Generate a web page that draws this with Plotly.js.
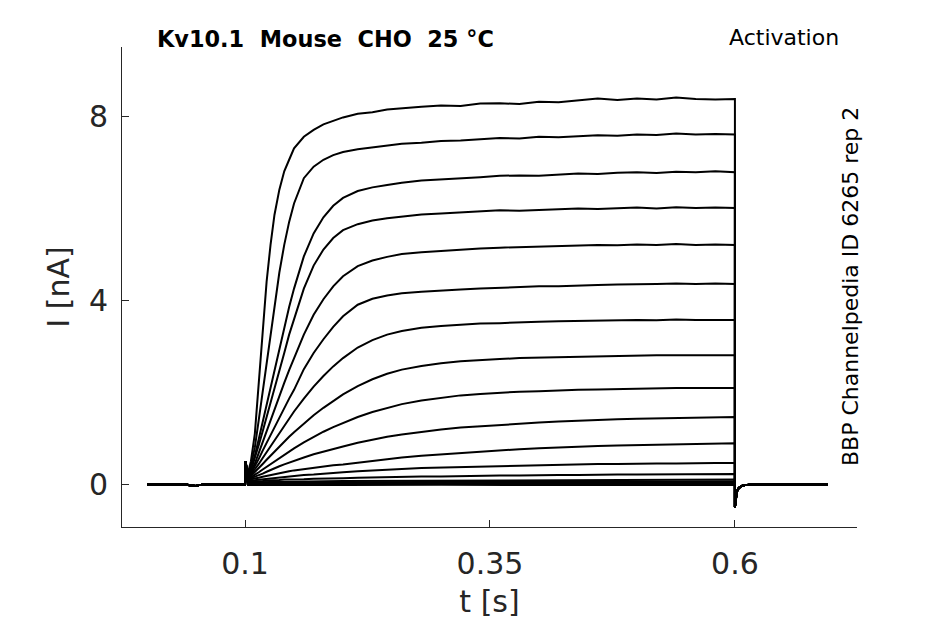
<!DOCTYPE html>
<html>
<head>
<meta charset="utf-8">
<script src="https://cdn.plot.ly/plotly-3.0.1.min.js"></script>
<style>
  body { margin: 0; background: #fff; }
  #chart { width: 945px; height: 624px; }
</style>
</head>
<body>
<div id="chart"></div>
<script>
// holding period before the step (s, nA), shared by all sweeps
const tPre = [0, 0.02, 0.04, 0.044, 0.047, 0.05, 0.053, 0.06, 0.08, 0.0999];
const iPre = [0, 0.005, 0, -0.03, -0.04, -0.04, -0.02, 0, 0.005, 0];

// step period, sample times (s)
const tStep = [0.1, 0.1004, 0.103, 0.106, 0.11, 0.114, 0.118, 0.122, 0.126, 0.13,
  0.135, 0.14, 0.145, 0.15, 0.16, 0.17, 0.18, 0.19, 0.2, 0.215,
  0.23, 0.245, 0.26, 0.28, 0.3, 0.32, 0.34, 0.36, 0.38, 0.4,
  0.42, 0.44, 0.46, 0.48, 0.5, 0.52, 0.54, 0.56, 0.58, 0.6];
// coarser times for the sweeps that barely activate
const tFlat = [0.1, 0.1004, 0.103, 0.2, 0.3, 0.4, 0.5, 0.6];

// return to holding after the step
const tPost = [0.6, 0.6005, 0.601, 0.602, 0.604, 0.607, 0.61, 0.615, 0.62, 0.63, 0.65, 0.67, 0.695];
const iPost = [-0.5, -0.4, -0.28, -0.16, -0.08, -0.04, -0.02, -0.01, 0, 0, 0, 0, 0];

// current during the step (nA), largest sweep first
const sweep01 = [0, 0.5, 0.25, 0.5, 1.1, 2.2, 3.4, 4.4, 5.2, 5.85,
  6.4, 6.8, 7.05, 7.3, 7.55, 7.7, 7.82, 7.9, 7.97, 8.05,
  8.08, 8.14, 8.17, 8.2, 8.23, 8.22, 8.27, 8.28, 8.26, 8.31,
  8.3, 8.34, 8.38, 8.35, 8.38, 8.36, 8.4, 8.37, 8.36, 8.37];
const sweep02 = [0, 0.5, 0.2, 0.4, 0.8, 1.4, 2.0, 2.6, 3.2, 3.9,
  4.6, 5.2, 5.7, 6.1, 6.65, 6.9, 7.05, 7.15, 7.22, 7.28,
  7.32, 7.36, 7.4, 7.42, 7.46, 7.47, 7.5, 7.52, 7.51, 7.55,
  7.54, 7.56, 7.58, 7.57, 7.6, 7.59, 7.62, 7.6, 7.61, 7.6];
const sweep03 = [0, 0.5, 0.2, 0.35, 0.62, 0.98, 1.35, 1.72, 2.1, 2.5,
  2.95, 3.4, 3.85, 4.25, 4.95, 5.45, 5.8, 6.05, 6.22, 6.37,
  6.45, 6.5, 6.55, 6.6, 6.62, 6.65, 6.67, 6.7, 6.71, 6.7,
  6.73, 6.75, 6.74, 6.77, 6.78, 6.76, 6.79, 6.78, 6.8, 6.78];
const sweep04 = [0, 0.5, 0.17, 0.3, 0.55, 0.85, 1.15, 1.45, 1.75, 2.05,
  2.45, 2.85, 3.25, 3.6, 4.25, 4.75, 5.1, 5.35, 5.52, 5.65,
  5.73, 5.78, 5.82, 5.86, 5.88, 5.9, 5.92, 5.95, 5.94, 5.96,
  5.97, 5.99, 5.98, 6.0, 6.01, 5.99, 6.02, 6.0, 6.01, 6.0];
const sweep05 = [0, 0.5, 0.16, 0.27, 0.45, 0.68, 0.92, 1.15, 1.38, 1.6,
  1.9, 2.2, 2.48, 2.75, 3.25, 3.68, 4.02, 4.3, 4.52, 4.74,
  4.86, 4.94, 5.0, 5.04, 5.07, 5.1, 5.12, 5.14, 5.15, 5.16,
  5.17, 5.18, 5.2, 5.19, 5.21, 5.2, 5.22, 5.2, 5.21, 5.2];
const sweep06 = [0, 0.5, 0.15, 0.24, 0.38, 0.55, 0.73, 0.9, 1.07, 1.24,
  1.45, 1.66, 1.86, 2.05, 2.5, 2.85, 3.15, 3.42, 3.65, 3.9,
  4.03, 4.1, 4.15, 4.18, 4.21, 4.23, 4.25, 4.27, 4.28, 4.3,
  4.3, 4.32, 4.33, 4.34, 4.34, 4.35, 4.36, 4.35, 4.36, 4.35];
const sweep07 = [0, 0.5, 0.14, 0.21, 0.32, 0.44, 0.57, 0.7, 0.83, 0.96,
  1.12, 1.28, 1.43, 1.58, 1.86, 2.12, 2.35, 2.56, 2.74, 2.97,
  3.13, 3.25, 3.33, 3.4, 3.44, 3.47, 3.49, 3.5, 3.52, 3.53,
  3.54, 3.55, 3.55, 3.56, 3.57, 3.56, 3.58, 3.57, 3.57, 3.57];
const sweep08 = [0, 0.5, 0.13, 0.18, 0.26, 0.35, 0.44, 0.53, 0.62, 0.71,
  0.82, 0.93, 1.03, 1.13, 1.32, 1.5, 1.66, 1.81, 1.95, 2.13,
  2.28, 2.4, 2.49, 2.57, 2.63, 2.67, 2.7, 2.72, 2.74, 2.75,
  2.76, 2.77, 2.78, 2.78, 2.79, 2.8, 2.8, 2.8, 2.81, 2.8];
const sweep09 = [0, 0.5, 0.12, 0.15, 0.2, 0.26, 0.32, 0.38, 0.44, 0.5,
  0.57, 0.64, 0.71, 0.78, 0.91, 1.03, 1.14, 1.24, 1.33, 1.46,
  1.57, 1.66, 1.74, 1.82, 1.88, 1.93, 1.96, 1.99, 2.01, 2.02,
  2.04, 2.05, 2.06, 2.07, 2.08, 2.08, 2.09, 2.09, 2.09, 2.09];
const sweep10 = [0, 0.5, 0.11, 0.13, 0.16, 0.19, 0.23, 0.27, 0.31, 0.35,
  0.39, 0.43, 0.47, 0.51, 0.58, 0.65, 0.71, 0.77, 0.82, 0.9,
  0.97, 1.03, 1.08, 1.14, 1.19, 1.23, 1.26, 1.29, 1.32, 1.34,
  1.36, 1.38, 1.39, 1.41, 1.42, 1.43, 1.44, 1.45, 1.45, 1.46];
const sweep11 = [0, 0.5, 0.1, 0.11, 0.12, 0.14, 0.16, 0.18, 0.2, 0.22,
  0.24, 0.26, 0.28, 0.3, 0.33, 0.36, 0.39, 0.41, 0.43, 0.47,
  0.51, 0.54, 0.58, 0.62, 0.65, 0.68, 0.71, 0.74, 0.76, 0.78,
  0.8, 0.82, 0.83, 0.84, 0.85, 0.86, 0.87, 0.88, 0.88, 0.89];
const sweep12 = [0, 0.5, 0.08, 0.08, 0.09, 0.1, 0.11, 0.12, 0.13, 0.14,
  0.15, 0.16, 0.17, 0.18, 0.2, 0.21, 0.23, 0.24, 0.26, 0.28,
  0.3, 0.31, 0.33, 0.35, 0.36, 0.38, 0.39, 0.4, 0.41, 0.42,
  0.42, 0.43, 0.44, 0.44, 0.45, 0.45, 0.45, 0.46, 0.46, 0.46];
const sweep13 = [0, 0.5, 0.06, 0.06, 0.06, 0.07, 0.07, 0.08, 0.08, 0.09,
  0.09, 0.1, 0.1, 0.1, 0.11, 0.12, 0.12, 0.13, 0.13, 0.14,
  0.15, 0.15, 0.16, 0.17, 0.17, 0.18, 0.18, 0.19, 0.19, 0.2,
  0.2, 0.2, 0.21, 0.21, 0.21, 0.21, 0.22, 0.22, 0.22, 0.22];
// sweeps near reversal, sampled on tFlat
const sweep14 = [0, 0.5, 0.04, 0.07, 0.08, 0.09, 0.1, 0.1];
const sweep15 = [0, 0.5, 0.03, 0.04, 0.05, 0.05, 0.06, 0.06];
const sweep16 = [0, 0.45, 0.01, 0.02, 0.02, 0.03, 0.03, 0.03];
const sweep17 = [0, 0.4, 0, 0, 0.01, 0, 0.01, 0.01];
const sweep18 = [0, 0.35, -0.02, -0.02, -0.01, -0.02, -0.02, -0.02];

const stepSweeps = [sweep01, sweep02, sweep03, sweep04, sweep05, sweep06, sweep07,
  sweep08, sweep09, sweep10, sweep11, sweep12, sweep13];
const flatSweeps = [sweep14, sweep15, sweep16, sweep17, sweep18];

const xTicks = [0.1, 0.35, 0.6];
const xTickText = ["0.1", "0.35", "0.6"];
const yTicks = [0, 4, 8];
const yTickText = ["0", "4", "8"];

const inkColor = "#262626";
const font = "DejaVu Sans, Liberation Sans, sans-serif";

function sweepTrace(tMid, iMid) {
  return {
    "type": "scatter",
    "mode": "lines",
    "x": tPre.concat(tMid, tPost),
    "y": iPre.concat(iMid, iPost),
    "line": {"color": "#000000", "width": 2},
    "hoverinfo": "skip",
    "showlegend": false
  };
}

const data = [];
// smallest sweeps drawn first so the big ones sit on top
for (let i = flatSweeps.length - 1; i >= 0; i--) {
  data.push(sweepTrace(tFlat, flatSweeps[i]));
}
for (let i = stepSweeps.length - 1; i >= 0; i--) {
  data.push(sweepTrace(tStep, stepSweeps[i]));
}

const layout = {
  "width": 945,
  "height": 624,
  "margin": {"l": 122, "r": 88, "t": 47, "b": 97},
  "paper_bgcolor": "#ffffff",
  "plot_bgcolor": "#ffffff",
  "font": {"family": font, "color": inkColor},
  "xaxis": {
    "range": [-0.0256, 0.7246],
    "tickvals": xTicks,
    "ticktext": xTickText,
    "ticks": "inside",
    "ticklen": 7,
    "tickcolor": inkColor,
    "tickfont": {"size": 30, "color": inkColor},
    "ticklabelstandoff": 10,
    "showline": true,
    "linecolor": inkColor,
    "linewidth": 1,
    "showgrid": false,
    "zeroline": false,
    "title": {"text": "t [s]", "font": {"size": 30, "color": inkColor}, "standoff": 10}
  },
  "yaxis": {
    "range": [-0.93, 9.5],
    "tickvals": yTicks,
    "ticktext": yTickText,
    "ticks": "inside",
    "ticklen": 7,
    "tickcolor": inkColor,
    "tickfont": {"size": 30, "color": inkColor},
    "ticklabelstandoff": 7,
    "showline": true,
    "linecolor": inkColor,
    "linewidth": 1,
    "showgrid": false,
    "zeroline": false,
    "title": {"text": "I [nA]", "font": {"size": 30, "color": inkColor}, "standoff": 10}
  },
  "annotations": [
    {
      "text": "<b>Kv10.1  Mouse  CHO  25 °C</b>",
      "xref": "paper", "yref": "paper",
      "x": 0.2769, "y": 1.017,
      "xanchor": "center", "yanchor": "middle",
      "showarrow": false,
      "font": {"size": 22.4, "color": "#000000"}
    },
    {
      "text": "Activation",
      "xref": "paper", "yref": "paper",
      "x": 0.978, "y": 1.019,
      "xanchor": "right", "yanchor": "middle",
      "showarrow": false,
      "font": {"size": 22, "color": "#000000"}
    },
    {
      "text": "BBP Channelpedia ID 6265 rep 2",
      "xref": "paper", "yref": "paper",
      "x": 0.9905, "y": 0.5,
      "xanchor": "center", "yanchor": "middle",
      "textangle": -90,
      "showarrow": false,
      "font": {"size": 22, "color": "#000000"}
    }
  ]
};

Plotly.newPlot("chart", data, layout, {"staticPlot": true, "displayModeBar": false});
</script>
</body>
</html>
